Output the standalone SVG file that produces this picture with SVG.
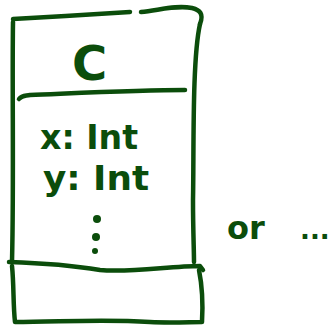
<svg xmlns="http://www.w3.org/2000/svg" width="329" height="329" viewBox="0 0 329 329">
  <style>
    .ink { fill: none; stroke: #0b4d0b; stroke-width: 4.5; stroke-linecap: round; stroke-linejoin: round; }
    .hand { fill: #0b4d0b; font-family: "DejaVu Sans", "Liberation Sans", sans-serif; font-weight: bold; }
    .dot { fill: #0b4d0b; }
  </style>
  <rect width="329" height="329" fill="#ffffff"/>

  <!-- class box: name, attributes and operations compartments -->
  <g id="class-box">
    <!-- top edge, drawn in two strokes -->
    <path class="ink" d="M13,19 C50,17 95,14 130,12"/>
    <path class="ink" d="M141,12 C160,10 176,5 192,8 C200,10 204,14 200,24"/>
    <!-- sides -->
    <path class="ink" d="M13,22 C12,90 14,180 12,262"/>
    <path class="ink" d="M200,24 C192,60 194,150 193,200 C193,230 194,250 194,262"/>
    <!-- divider under the name -->
    <path class="ink" d="M19,99 C22,95 25,96 30,95 C80,93 140,90 185,90"/>
    <!-- divider above the operations -->
    <path class="ink" d="M9,262 C40,263 70,265 100,270 C130,273 170,266 200,266 L203,270"/>
    <!-- bottom compartment -->
    <path class="ink" d="M12,266 C14,285 13,305 15,322 C60,322 100,319 150,322 C170,323 190,322 202,322 C203,305 202,285 199,270"/>
  </g>

  <g id="class-name">
    <text class="hand" x="72" y="80" font-size="48" font-weight="normal">C</text>
  </g>

  <g id="attributes">
    <text class="hand" x="40" y="149" font-size="34" textLength="98" lengthAdjust="spacingAndGlyphs">x: Int</text>
    <text class="hand" x="43" y="190" font-size="34" textLength="106" lengthAdjust="spacingAndGlyphs">y: Int</text>
    <circle class="dot" cx="97" cy="219" r="4"/>
    <circle class="dot" cx="96" cy="237" r="4"/>
    <circle class="dot" cx="95" cy="251" r="3"/>
  </g>

  <g id="alternative">
    <text class="hand" x="227" y="239" font-size="32">or</text>
    <text class="hand" x="300" y="239" font-size="26">...</text>
  </g>
</svg>
